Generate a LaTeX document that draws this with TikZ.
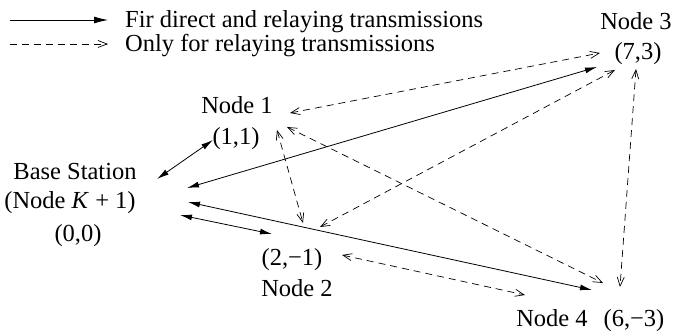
\documentclass[tikz,border=0pt]{standalone}
\usepackage{fontspec}
\setmainfont{Liberation Serif}
\usetikzlibrary{arrows.meta}
\tikzset{
  lbl/.style={anchor=base, inner sep=0pt, font=\fontsize{24.5}{28}\selectfont},
  solidlink/.style={line width=0.8pt, {Latex[length=12pt,width=6pt]}-{Latex[length=12pt,width=6pt]}},
  dashlink/.style={line width=0.7pt, dash pattern=on 7pt off 5pt, {Straight Barb[length=9pt,width=7pt]}-{Straight Barb[length=9pt,width=7pt]}},
}
\begin{document}
\begin{tikzpicture}[x=1pt,y=-1pt]
\useasboundingbox (0,0) rectangle (673,331);
% legend
\coordinate (ls1) at (10,20);
\coordinate (ls2) at (108,20);
\coordinate (ld1) at (10,44);
\coordinate (ld2) at (108,44);
\draw[line width=0.8pt, -{Latex[length=14pt,width=7pt]}] (ls1) -- (ls2);
\draw[line width=0.7pt, dash pattern=on 7pt off 5pt, -{Straight Barb[length=9pt,width=7pt]}] (ld1) -- (ld2);
\node[lbl, anchor=base west] (leg1) at (125,28) {Fir direct and relaying transmissions};
\node[lbl, anchor=base west] (leg2) at (125,52) {Only for relaying transmissions};
% labels
\node[lbl] (n3name) at (636,30) {Node 3};
\node[lbl] (n3pos) at (638,60) {(7,3)};
\node[lbl] (n1name) at (237,114) {Node 1};
\node[lbl] (n1pos) at (236,145) {(1,1)};
\node[lbl] (bsname) at (75,180) {Base Station};
\node[lbl] (bsid) at (70,209) {(Node \textit{K} + 1)};
\node[lbl] (bspos) at (78,242) {(0,0)};
\node[lbl] (n2pos) at (292,266) {(2,−1)};
\node[lbl] (n2name) at (297,297) {Node 2};
\node[lbl] (n4name) at (552,327) {Node 4};
\node[lbl] (n4pos) at (634,327) {(6,−3)};
% connector end points
\coordinate (bs1) at (157,179);
\coordinate (bs2) at (187,188);
\coordinate (bs3) at (188,202);
\coordinate (bs4) at (180,215);
\coordinate (n1a) at (213,140);
\coordinate (n1b) at (290,113);
\coordinate (n1c) at (277,130);
\coordinate (n1d) at (287,127);
\coordinate (n2a) at (272,234);
\coordinate (n2b) at (303,223);
\coordinate (n2c) at (320,227);
\coordinate (n2d) at (342,255);
\coordinate (n3a) at (597,67);
\coordinate (n3b) at (600,53);
\coordinate (n3c) at (615,70);
\coordinate (n3d) at (636,69);
\coordinate (n4a) at (592,290);
\coordinate (n4b) at (603,283);
\coordinate (n4c) at (620,287);
\coordinate (n4d) at (525,295);
% solid links
\draw[solidlink] (bs1) -- (n1a);
\draw[solidlink] (bs2) -- (n3a);
\draw[solidlink] (bs3) -- (n4a);
\draw[solidlink] (bs4) -- (n2a);
% dashed links
\draw[dashlink] (n1b) -- (n3b);
\draw[dashlink] (n1c) -- (n2b);
\draw[dashlink] (n1d) -- (n4b);
\draw[dashlink] (n2c) -- (n3c);
\draw[dashlink] (n3d) -- (n4c);
\draw[dashlink] (n2d) -- (n4d);
\end{tikzpicture}
\end{document}
